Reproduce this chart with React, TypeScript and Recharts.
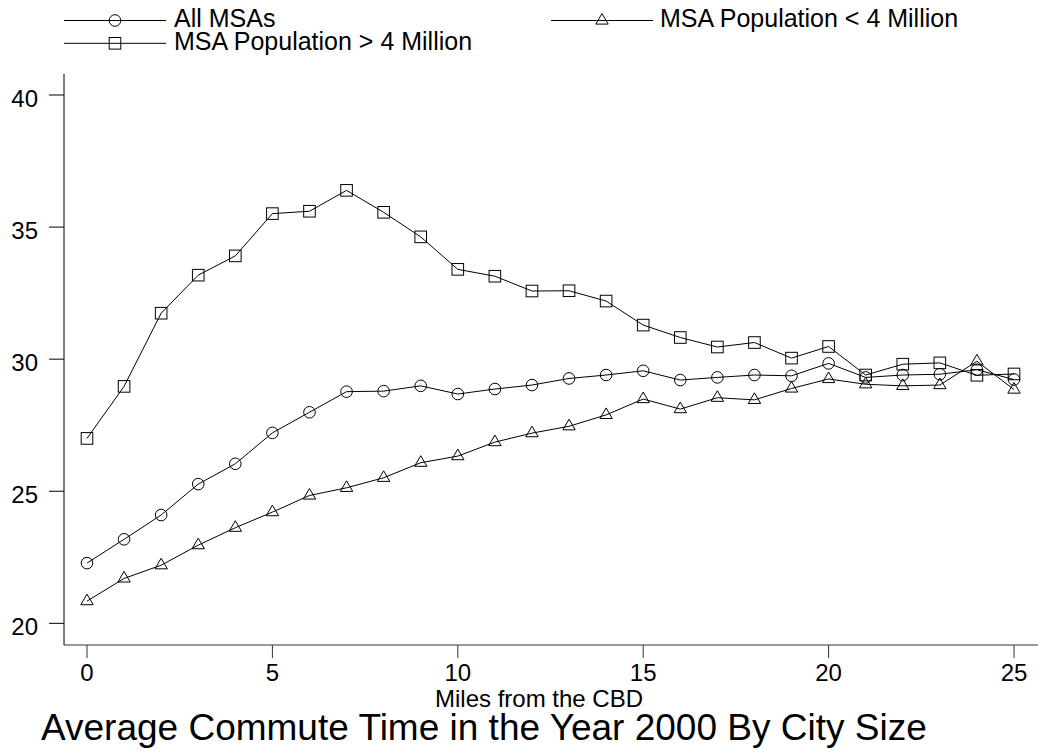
import React from 'react';
import { LineChart, Line, XAxis, YAxis, Legend, Label } from 'recharts';

// Distance from the central business district, in miles
const miles = [0, 1, 2, 3, 4, 5, 6, 7, 8, 9, 10, 11, 12, 13, 14, 15, 16, 17, 18, 19, 20, 21, 22, 23, 24, 25];

// Average one-way commute time (minutes)
const allMsas = [
  22.28, 23.18, 24.1, 25.27, 26.04, 27.21, 27.99, 28.77, 28.79, 28.99, 28.68, 28.87, 29.02,
  29.27, 29.4, 29.56, 29.21, 29.31, 29.4, 29.37, 29.84, 29.31, 29.4, 29.43, 29.6, 29.23,
];
const popUnder4M = [
  20.84, 21.7, 22.2, 22.96, 23.62, 24.21, 24.84, 25.13, 25.51, 26.08, 26.33, 26.86, 27.2,
  27.46, 27.89, 28.49, 28.11, 28.54, 28.46, 28.89, 29.25, 29.05, 28.99, 29.02, 29.92, 28.85,
];
const popOver4M = [
  27.0, 28.97, 31.74, 33.18, 33.91, 35.51, 35.6, 36.39, 35.56, 34.63, 33.4, 33.14, 32.58,
  32.59, 32.2, 31.29, 30.82, 30.46, 30.63, 30.04, 30.48, 29.4, 29.81, 29.86, 29.39, 29.44,
];

const xTicks = [0, 5, 10, 15, 20, 25];
const yTicks = [20, 25, 30, 35, 40];

const xLabel = 'Miles from the CBD';
const title = 'Average Commute Time in the Year 2000 By City Size';

type Shape = 'circle' | 'triangle' | 'square';

const series: { key: string; name: string; shape: Shape }[] = [
  { key: 'all', name: 'All MSAs', shape: 'circle' },
  { key: 'under', name: 'MSA Population < 4 Million', shape: 'triangle' },
  { key: 'over', name: 'MSA Population > 4 Million', shape: 'square' },
];

const data = miles.map((m, i) => ({
  miles: m,
  all: allMsas[i],
  under: popUnder4M[i],
  over: popOver4M[i],
}));

const FONT = '"Liberation Sans", Arial, Helvetica, sans-serif';
const W = 1038;
const H = 754;

function Marker({ cx, cy, shape }: { cx: number; cy: number; shape: Shape }) {
  if (cx == null || cy == null) return null;
  const common = { fill: 'none', stroke: '#000', strokeWidth: 1 };
  if (shape === 'circle') return <circle cx={cx} cy={cy} r={5.8} {...common} />;
  if (shape === 'square') return <rect x={cx - 5.8} y={cy - 5.8} width={11.6} height={11.6} {...common} />;
  return (
    <polygon
      points={`${cx},${cy - 7} ${cx - 6.2},${cy + 3.6} ${cx + 6.2},${cy + 3.6}`}
      {...common}
    />
  );
}

const makeDot = (shape: Shape) => (props: any) => (
  <g key={`${shape}-${props.index}`}>
    <Marker cx={props.cx} cy={props.cy} shape={shape} />
  </g>
);

const YTick = (props: any) => (
  <text x={props.x} y={props.y} dy={11.5} textAnchor="end" fontFamily={FONT} fontSize={24} fill="#000">
    {props.payload.value}
  </text>
);

const XTick = (props: any) => (
  <text x={props.x} y={props.y} dy={17} textAnchor="middle" fontFamily={FONT} fontSize={24} fill="#000">
    {props.payload.value}
  </text>
);

// Legend slots: two columns on the first row, one on the second
const legendSlots = [
  { lineX: 64, textX: 174, y: 20.5 },
  { lineX: 551, textX: 660, y: 20.5 },
  { lineX: 64, textX: 174, y: 43.3 },
];

const LegendContent = () => (
  <svg width={W} height={60} style={{ display: 'block' }}>
    {series.map((s, i) => {
      const slot = legendSlots[i];
      return (
        <g key={s.key}>
          <line x1={slot.lineX} x2={slot.lineX + 102} y1={slot.y} y2={slot.y} stroke="#000" strokeWidth={1} />
          <Marker cx={slot.lineX + 51} cy={slot.y} shape={s.shape} />
          <text x={slot.textX} y={slot.y + 6.5} fontFamily={FONT} fontSize={25} fill="#000">
            {s.name}
          </text>
        </g>
      );
    })}
  </svg>
);

export default function App() {
  return (
    <div style={{ position: 'absolute', left: 0, top: 0, width: W, height: H, background: '#fff' }}>
      <LineChart width={W} height={H} data={data} margin={{ top: 74, right: 0, bottom: 0, left: 0 }}>
        <XAxis
          type="number"
          dataKey="miles"
          domain={[-0.62, 25.647]}
          allowDataOverflow
          ticks={xTicks}
          tick={<XTick />}
          tickSize={13}
          tickMargin={6}
          height={109}
          axisLine={{ stroke: '#333', strokeWidth: 1 }}
          tickLine={{ stroke: '#333', strokeWidth: 1 }}
        >
          <Label
            content={() => (
              <text x={539} y={707} textAnchor="middle" fontFamily={FONT} fontSize={24} fill="#000">
                {xLabel}
              </text>
            )}
          />
        </XAxis>
        <YAxis
          type="number"
          domain={[19.18, 40.795]}
          allowDataOverflow
          ticks={yTicks}
          tick={<YTick />}
          tickSize={15}
          tickMargin={11}
          width={64}
          axisLine={{ stroke: '#000', strokeWidth: 1 }}
          tickLine={{ stroke: '#000', strokeWidth: 1 }}
        />
        <Legend
          layout="horizontal"
          verticalAlign="middle"
          align="center"
          wrapperStyle={{ position: 'absolute', top: 0, left: 0, width: W, height: 60 }}
          content={<LegendContent />}
        />
        {series.map((s) => (
          <Line
            key={s.key}
            type="linear"
            dataKey={s.key}
            name={s.name}
            stroke="#000"
            strokeWidth={1}
            dot={makeDot(s.shape)}
            activeDot={false}
            isAnimationActive={false}
          />
        ))}
      </LineChart>
      <svg
        width={W}
        height={H}
        style={{ position: 'absolute', left: 0, top: 0, pointerEvents: 'none' }}
      >
        <text x={41} y={740} fontFamily={FONT} fontSize={37} fill="#000">
          {title}
        </text>
      </svg>
    </div>
  );
}
